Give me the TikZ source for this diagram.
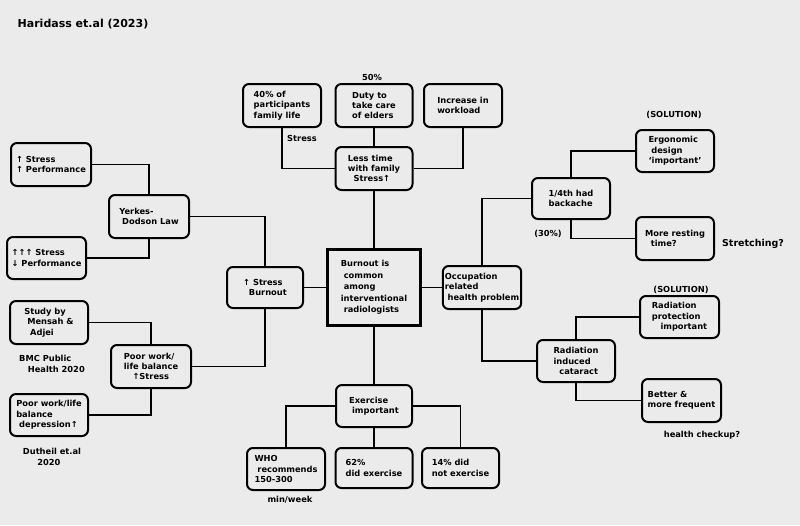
\documentclass[tikz,border=0pt]{standalone}
\usepackage{fontspec}
\setmainfont{DejaVu Sans}
\begin{document}
\begin{tikzpicture}[x=1pt,y=-1pt,
  box/.style={draw=black, line width=2pt, rounded corners=6pt, inner sep=2pt,
    font=\fontsize{8.3}{10.3}\selectfont\bfseries, align=left},
  mainbox/.style={draw=black, line width=3pt, inner sep=2pt,
    font=\fontsize{8.3}{11.5}\selectfont\bfseries, align=left},
  lbl/.style={font=\fontsize{8.3}{10.3}\selectfont\bfseries, align=left, inner sep=1pt},
  link/.style={draw=black, line width=1.6pt}]
\fill[black!8] (0,0) rectangle (800,525);
\useasboundingbox (0,0) rectangle (800,525);

% title
\node[lbl, font=\fontsize{11}{13}\selectfont\bfseries] (title) at (83,24) {Haridass et.al (2023)};

% centre
\node[mainbox, minimum width=93pt, minimum height=76pt] (center) at (374,287.5)
  {Burnout is\\ \ common\\ \ among\\interventional\\ \ radiologists};

% left cluster
\node[box, minimum width=80pt, minimum height=43pt] (s1) at (51,164.5) {↑ Stress\\↑ Performance};
\node[box, minimum width=80pt, minimum height=43pt] (yerkes) at (149,216.5) {Yerkes-\\ \ Dodson Law};
\node[box, minimum width=79pt, minimum height=42pt] (s3) at (46.5,258) {↑↑↑ Stress\\↓ Performance};
\node[box, minimum width=76pt, minimum height=41pt] (sb) at (265,287.5) {↑ Stress\\ \ \ Burnout};
\node[box, minimum width=78pt, minimum height=43pt] (study) at (49,322.5) {Study by\\ \ Mensah \&\\ \ \ Adjei};
\node[box, minimum width=80pt, minimum height=43pt] (pw) at (151,366.5) {Poor work/\\life balance\\ \ \ \ ↑Stress};
\node[box, minimum width=78pt, minimum height=42pt] (dep) at (49,415) {Poor work/life\\balance\\ \ depression↑};
\node[lbl] (bmc) at (52,364) {BMC Public\\ \ \ \ Health 2020};
\node[lbl] (dut) at (52,457) {Dutheil et.al\\ \ \ \ \ \ 2020};

% top cluster
\node[box, minimum width=78pt, minimum height=43pt] (p40) at (282,105.5) {40\% of\\participants\\family life};
\node[lbl] (p40s) at (302,138) {Stress};
\node[box, minimum width=77pt, minimum height=43pt] (duty) at (374,105.5) {Duty to\\take care\\of elders};
\node[lbl] (p50) at (372,77) {50\%};
\node[box, minimum width=78pt, minimum height=43pt] (inc) at (463,105.5) {Increase in\\workload};
\node[box, minimum width=77pt, minimum height=43pt] (less) at (374,168.5) {Less time\\with family\\ \ \ Stress↑};

% right cluster
\node[box, minimum width=78pt, minimum height=43pt] (occ) at (482,287.5) {Occupation\\related\\ \ health problem};
\node[box, minimum width=78pt, minimum height=41pt] (vtth) at (571,198.5) {1/4th had\\backache};
\node[lbl] (p30) at (548,234) {(30\%)};
\node[lbl] (sol1) at (674,115) {(SOLUTION)};
\node[box, minimum width=78pt, minimum height=42pt] (ergo) at (675,151) {Ergonomic\\ \ design\\ ‘important’};
\node[box, minimum width=78pt, minimum height=43pt] (rest) at (675,238.5) {More resting\\ \ \ time?};
\node[lbl, font=\fontsize{9.5}{11}\selectfont\bfseries] (stretch) at (753,244) {Stretching?};
\node[lbl] (sol2) at (681,290) {(SOLUTION)};
\node[box, minimum width=79pt, minimum height=42pt] (radp) at (679.5,317) {Radiation\\protection\\ \ \ \ important};
\node[box, minimum width=78pt, minimum height=42pt] (rad) at (576,361) {Radiation\\induced\\ \ \ cataract};
\node[box, minimum width=79pt, minimum height=43pt] (better) at (681.5,400.5) {Better \&\\more frequent};
\node[lbl] (check) at (702,435) {health checkup?};

% bottom cluster
\node[box, minimum width=76pt, minimum height=42pt] (ex) at (374,406) {Exercise\\ \ important};
\node[box, minimum width=78pt, minimum height=42pt] (who) at (286,469) {WHO\\ \ recommends\\150-300};
\node[lbl] (minw) at (290,500) {min/week};
\node[box, minimum width=77pt, minimum height=40pt] (n62) at (374,468) {62\%\\did exercise};
\node[box, minimum width=77pt, minimum height=40pt] (n14) at (460.5,468) {14\% did\\not exercise};

% connectors
\draw[link] (center.north) -- (less.south);
\draw[link] (less.north) -- (duty.south);
\draw[link] (less.west) -| (p40.south);
\draw[link] (less.east) -| (inc.south);

\draw[link] (center.west) -- (sb.east);
\draw[link] (sb.north) |- (yerkes.east);
\draw[link] (s1.east) -| (yerkes.north);
\draw[link] (yerkes.south) |- (s3.east);
\draw[link] (sb.south) |- (pw.east);
\draw[link] (pw.north) |- (study.east);
\draw[link] (pw.south) |- (dep.east);

\draw[link] (center.east) -- (occ.west);
\draw[link] (occ.north) |- (vtth.west);
\draw[link] (vtth.north) |- (ergo.west);
\draw[link] (vtth.south) |- (rest.west);
\draw[link] (occ.south) |- (rad.west);
\draw[link] (rad.north) |- (radp.west);
\draw[link] (rad.south) |- (better.west);

\draw[link] (center.south) -- (ex.north);
\draw[link] (ex.south) -- (n62.north);
\draw[link] (ex.west) -| (who.north);
\draw[link] (ex.east) -| (n14.north);
\end{tikzpicture}
\end{document}
